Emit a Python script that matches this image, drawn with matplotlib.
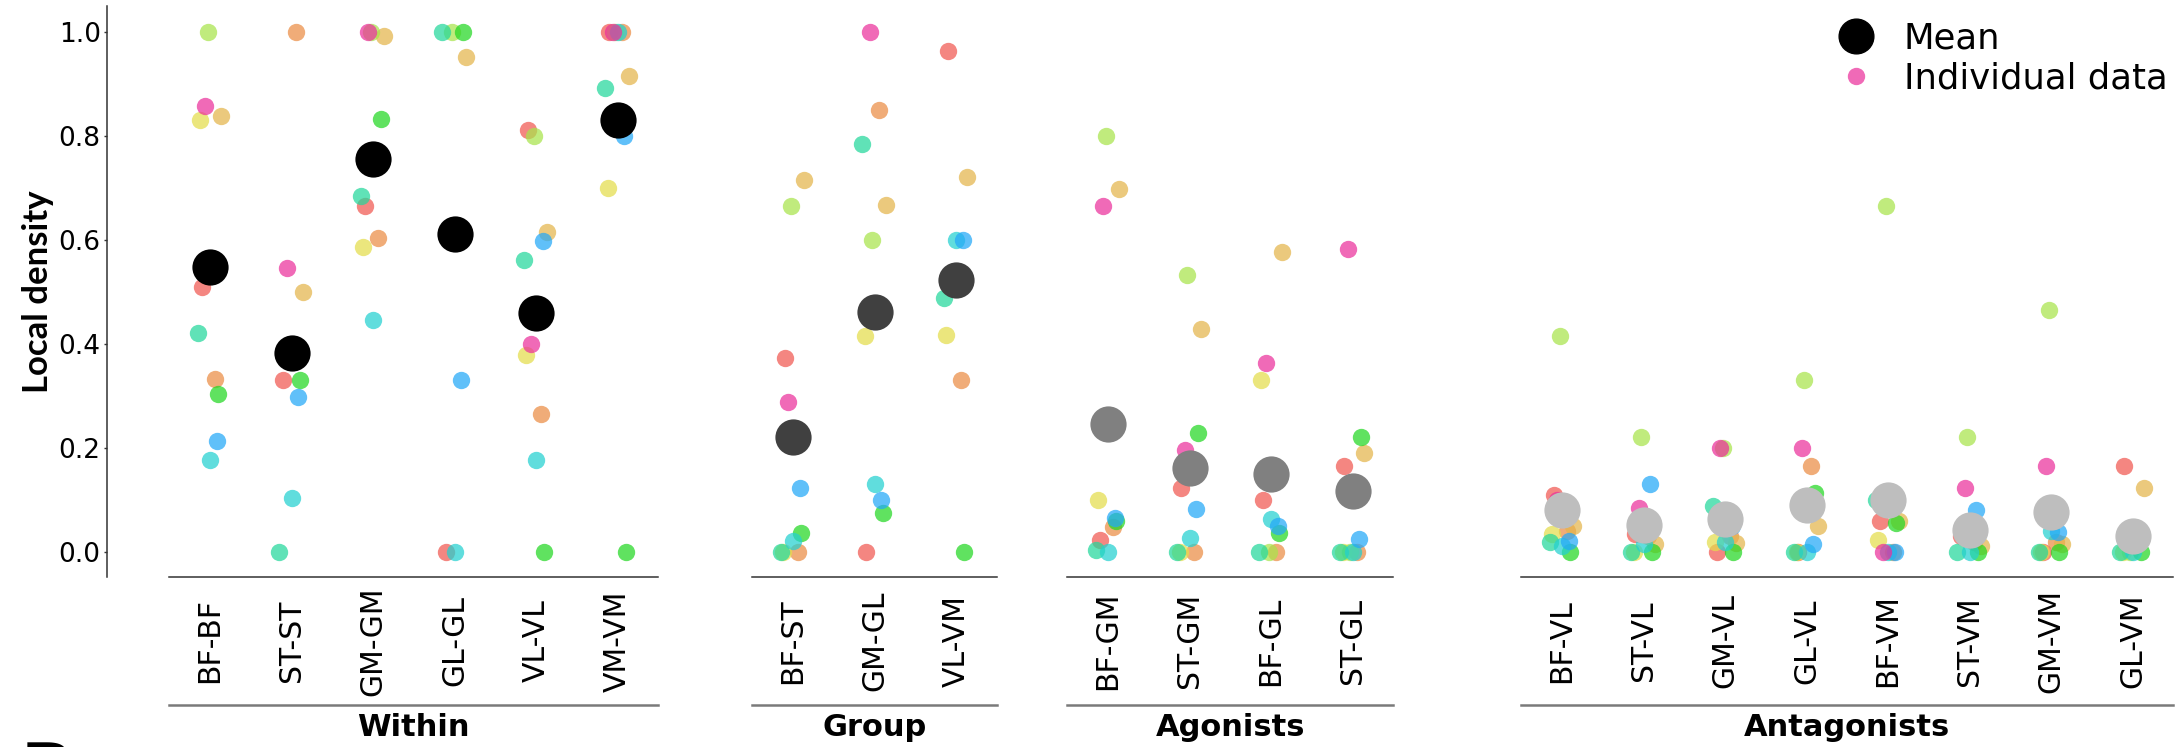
import numpy as np
import matplotlib
matplotlib.use('Agg')
import matplotlib.pyplot as plt
from matplotlib.lines import Line2D

plt.rcParams['font.family'] = ['DejaVu Sans']

W, H = 2179, 747
nan = np.nan

# subjects: red, orange, gold, yellow, lime, green, mint, cyan, sky, pink
subj_colors = ['#F15851', '#EB8D44', '#E4B54B', '#E4DD4B', '#A8E44B',
               '#23D723', '#23D79B', '#23D0D0', '#23A8F8', '#EB309B']

groups = ['Within', 'Group', 'Agonists', 'Antagonists']
mean_colors = ['#000000', '#404040', '#808080', '#BEBEBE']

within_labels = ['BF-BF', 'ST-ST', 'GM-GM', 'GL-GL', 'VL-VL', 'VM-VM']
within_vals = [
    [0.511, 0.334, 0.839, 0.832, 1.0, 0.305, 0.422, 0.177, 0.213, 0.858],
    [0.332, 1.0, 0.5, nan, nan, 0.332, 0.0, 0.105, 0.299, 0.546],
    [0.666, 0.605, 0.993, 0.587, 1.0, 0.834, 0.686, 0.446, nan, 1.0],
    [0.0, nan, 0.952, nan, 1.0, 1.0, 1.0, 0.0, 0.332, nan],
    [0.812, 0.266, 0.616, 0.38, 0.801, 0.0, 0.563, 0.177, 0.599, 0.401],
    [1.0, 1.0, 0.917, 0.701, 1.0, 0.0, 0.893, 1.0, 0.801, 1.0],
]
within_means = [0.548, 0.384, 0.756, 0.613, 0.461, 0.832]

group_labels = ['BF-ST', 'GM-GL', 'VL-VM']
group_vals = [
    [0.374, 0.0, 0.716, 0.0, 0.666, 0.037, 0.0, 0.022, 0.124, 0.288],
    [0.0, 0.85, 0.668, 0.415, 0.6, 0.075, 0.786, 0.131, 0.101, 1.0],
    [0.965, 0.332, 0.722, 0.418, nan, 0.0, 0.489, 0.6, 0.6, nan],
]
group_means = [0.221, 0.463, 0.523]

agon_labels = ['BF-GM', 'ST-GM', 'BF-GL', 'ST-GL']
agon_vals = [
    [0.024, 0.048, 0.699, 0.101, 0.801, 0.059, 0.004, 0.0, 0.066, 0.666],
    [0.124, 0.0, 0.43, 0.0, 0.534, 0.23, 0.0, 0.028, 0.083, 0.196],
    [0.1, 0.0, 0.578, 0.332, 0.0, 0.037, 0.0, 0.063, 0.05, 0.363],
    [0.166, 0.0, 0.19, 0.0, 0.0, 0.221, 0.0, 0.0, 0.026, 0.583],
]
agon_means = [0.247, 0.161, 0.151, 0.118]

antag_labels = ['BF-VL', 'ST-VL', 'GM-VL', 'GL-VL', 'BF-VM', 'ST-VM', 'GM-VM', 'GL-VM']
antag_vals = [
    [0.11, 0.04, 0.05, 0.035, 0.415, 0.0, 0.02, 0.011, 0.022, 0.1],
    [0.035, 0.03, 0.015, 0.0, 0.221, 0.0, 0.0, 0.016, 0.131, 0.085],
    [0.0, 0.03, 0.018, 0.02, 0.2, 0.0, 0.089, 0.02, 0.05, 0.2],
    [0.0, 0.166, 0.05, 0.0, 0.332, 0.114, 0.0, 0.0, 0.015, 0.2],
    [0.06, 0.0, 0.059, 0.024, 0.666, 0.055, 0.1, 0.0, 0.0, 0.0],
    [0.03, 0.02, 0.011, nan, 0.221, 0.0, 0.0, 0.0, 0.081, 0.124],
    [0.0, 0.02, 0.016, 0.0, 0.466, 0.0, 0.0, 0.04, 0.039, 0.165],
    [0.165, nan, 0.124, 0.0, 0.0, 0.0, 0.0, 0.0, nan, nan],
]
antag_means = [0.081, 0.053, 0.063, 0.09, 0.1, 0.043, 0.077, 0.03]

# fixed horizontal jitter per subject (category units)
jit = np.array([-0.1, 0.06, 0.14, -0.12, -0.03, 0.1, -0.15, 0.0, 0.08, -0.06])

panels = [(within_labels, within_vals, within_means),
          (group_labels, group_vals, group_means),
          (agon_labels, agon_vals, agon_means),
          (antag_labels, antag_vals, antag_means)]
first_centers = [210, 793, 1108, 1562]
sp = 81.5
ax_top, ax_bot = 6, 577
ylim = (-0.048, 1.051)

fig = plt.figure(figsize=(W / 100, H / 100), dpi=100)

# y axis
axy = fig.add_axes([107 / W, 1 - ax_bot / H, 1 / W, (ax_bot - ax_top) / H])
axy.set_ylim(ylim)
for s in ['top', 'right', 'bottom']:
    axy.spines[s].set_visible(False)
axy.spines['left'].set_color('#333333')
axy.spines['left'].set_linewidth(1.1)
axy.set_xticks([])
axy.set_yticks([0.0, 0.2, 0.4, 0.6, 0.8, 1.0])
axy.set_yticklabels(['0.0', '0.2', '0.4', '0.6', '0.8', '1.0'])
axy.tick_params(axis='y', labelsize=19, length=2.5, width=1, pad=2, color='#333333')
axy.patch.set_alpha(0)
fig.text(38 / W, 1 - 292 / H, 'Local density', rotation=90, ha='center', va='center',
         fontsize=25, fontweight='bold', family=['Lato', 'DejaVu Sans'])

axes = []
for gi, (labels, vals, means) in enumerate(panels):
    n = len(labels)
    left = first_centers[gi] - 0.5 * sp
    ax = fig.add_axes([left / W, 1 - ax_bot / H, n * sp / W, (ax_bot - ax_top) / H])
    ax.patch.set_alpha(0)
    ax.set_xlim(-0.5, n - 0.5)
    ax.set_ylim(ylim)
    for s in ['top', 'right', 'left']:
        ax.spines[s].set_visible(False)
    ax.spines['bottom'].set_color('#333333')
    ax.spines['bottom'].set_linewidth(1.1)
    ax.set_yticks([])
    vals = np.array(vals)
    x = np.arange(n)
    for k in range(vals.shape[1]):
        ax.scatter(x + jit[k], vals[:, k], s=156, color=subj_colors[k], alpha=0.72,
                   linewidths=0, zorder=2, clip_on=False)
    ax.scatter(x, means, s=680, color=mean_colors[gi], linewidths=0, zorder=3, clip_on=False)
    ax.set_xticks(x)
    ax.set_xticklabels(labels, rotation=90, va='center', fontsize=21.5)
    ax.tick_params(axis='x', length=0, pad=46)
    ax.plot([0, 1], [-0.2242, -0.2242], transform=ax.transAxes, clip_on=False,
            color='#7a7a7a', lw=1.8)
    ax.text(0.5, -0.2644, groups[gi], transform=ax.transAxes, ha='center', va='center',
            fontsize=22, fontweight='bold')
    axes.append(ax)

handles = [Line2D([], [], marker='o', ls='', color='black', markersize=25),
           Line2D([], [], marker='o', ls='', color=subj_colors[9], alpha=0.72, markersize=12.5,
                  markeredgewidth=0)]
fig.legend(handles, ['Mean', 'Individual data'], loc='upper left',
           bbox_to_anchor=(1824 / W, 1 - 7 / H), frameon=False, fontsize=25.5,
           handlelength=1.0, handletextpad=0.85, labelspacing=0.17, borderaxespad=0)

fig.text(21 / W, -46 / H, 'B', ha='left', va='baseline', fontsize=50, fontweight='bold')

fig.savefig('out.png', dpi=100)
